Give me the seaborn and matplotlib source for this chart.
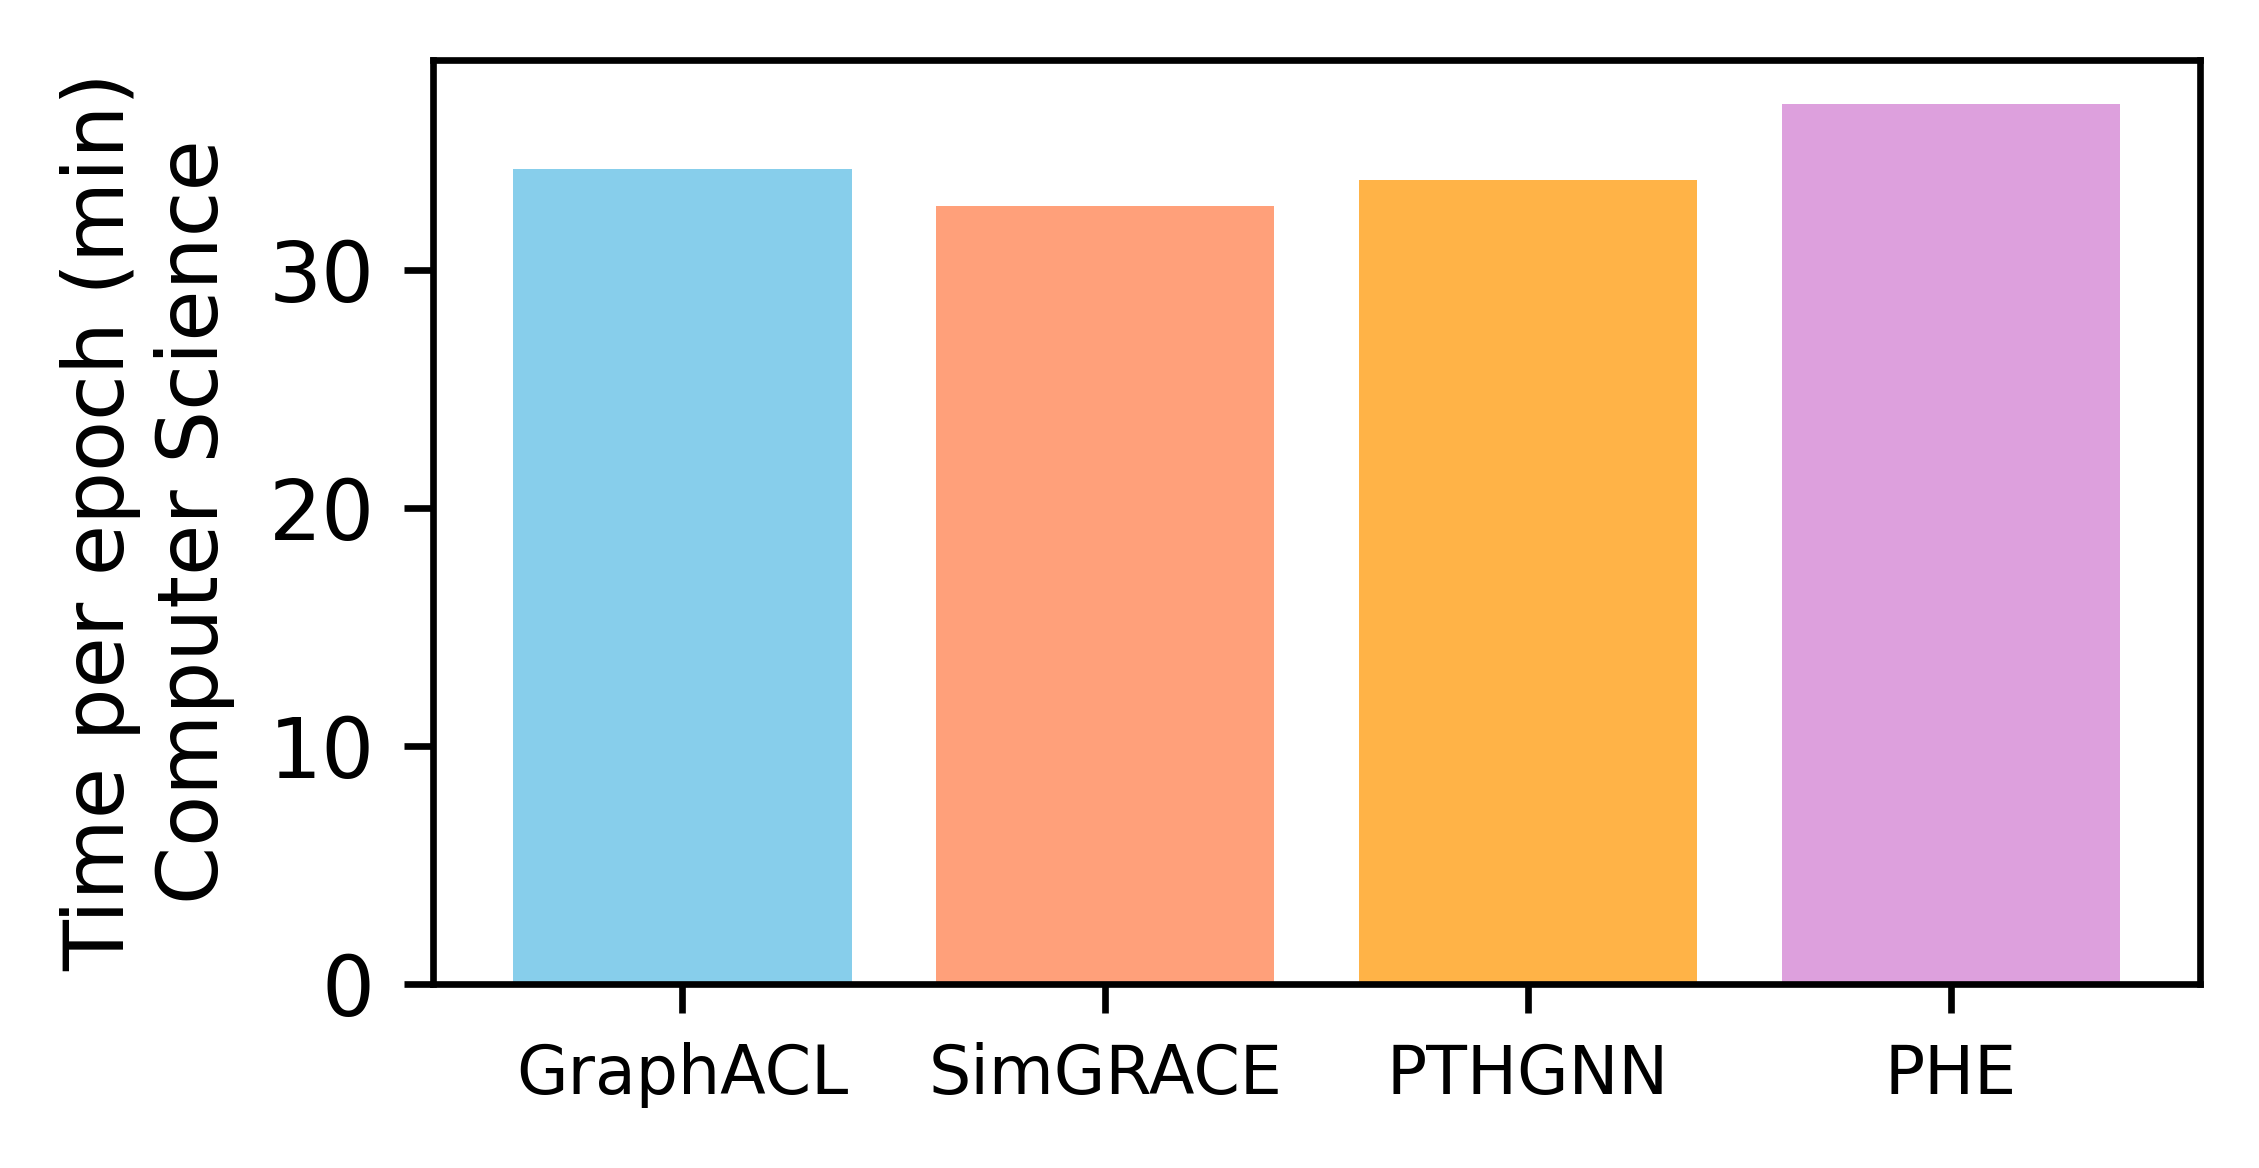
import matplotlib
matplotlib.use("Agg")
import matplotlib.pyplot as plt
import seaborn as sns
import pandas as pd

methods = ["GraphACL", "SimGRACE", "PTHGNN", "PHE"]
times = [34.2, 32.65, 33.75, 36.95]
colors = ["#87CEEB", "#FFA07A", "#FFB347", "#DDA0DD"]

plt.rcParams['font.family'] = ['DejaVu Sans']

df = pd.DataFrame({"method": methods, "time": times})

fig = plt.figure(figsize=(2259 / 600, 1168 / 600), dpi=600)
ax = fig.add_axes([433 / 2259, 1 - 984 / 1168, (2200 - 433) / 2259, (984 - 60) / 1168])

sns.barplot(data=df, x="method", y="time", hue="method", palette=colors,
            saturation=1, width=0.8, legend=False, ax=ax, order=methods,
            hue_order=methods, linewidth=0, edgecolor="none")

ax.set_xlim(-0.59, 3.59)
ax.set_ylim(0, max(times) * 1.05)
ax.set_yticks([0, 10, 20, 30])
ax.tick_params(axis="both", colors="black", width=0.8, length=3.5)
ax.tick_params(axis="y", labelsize=10)
ax.tick_params(axis="x", labelsize=8)
ax.set_xlabel("")
ax.set_ylabel("Time per epoch (min)\nComputer Science", fontsize=10, color="black")
for s in ax.spines.values():
    s.set_visible(True)
    s.set_linewidth(0.8)
    s.set_color("black")

fig.savefig("out.png", dpi=600, facecolor="white")
